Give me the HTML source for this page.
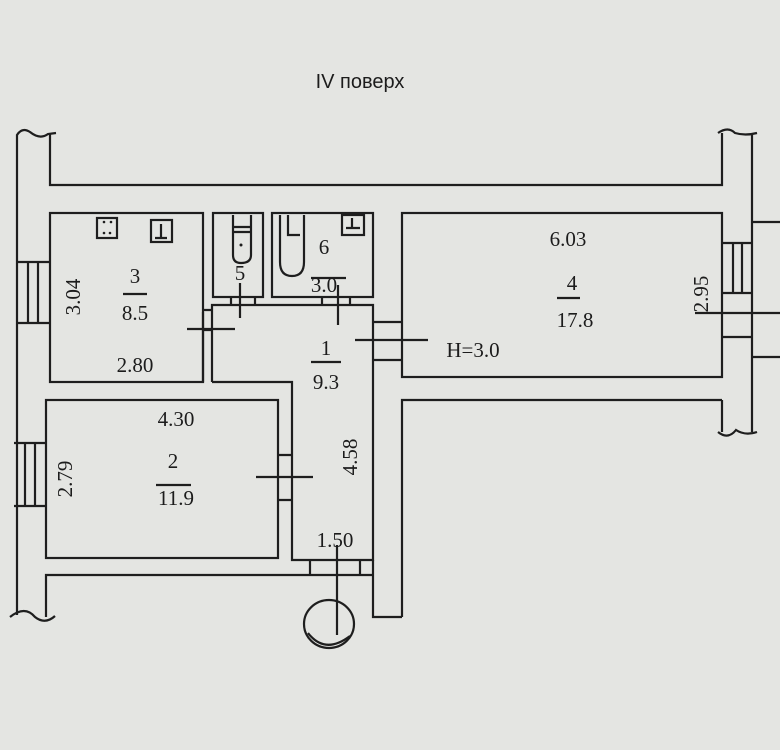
<!DOCTYPE html>
<html><head><meta charset="utf-8"><style>
html,body{margin:0;padding:0;background:#e4e5e2}
svg{display:block}
text{font-family:"Liberation Serif",serif;fill:#1c1c1c}
</style></head><body>
<svg width="780" height="750" viewBox="0 0 780 750" xmlns="http://www.w3.org/2000/svg">
<rect width="780" height="750" fill="#e4e5e2"/>
<text x="360" y="88" font-family="Liberation Sans, sans-serif" font-size="20" text-anchor="middle" style="font-family:'Liberation Sans',sans-serif">IV поверх</text>
<g stroke="#1e1e1e" stroke-width="2.2" fill="none">
<!-- outer walls -->
<path d="M17 615 V135 Q22 127 30 132 Q40 140 48 134 L56 133"/>
<path d="M50 133 V185 H722 V133"/>
<path d="M718 133 Q728 126 735 133 Q745 136 757 133"/>
<path d="M752 133 V432"/>
<path d="M722 400 V432 M718 432 Q728 440 736 430 Q745 436 757 432"/>
<path d="M402 617 V400 H722"/>
<path d="M373 560 V617 H402"/>
<path d="M46 617 V575 H373"/>
<path d="M10 617 Q25 605 35 617 Q45 625 55 616"/>
<!-- room 3 -->
<rect x="50" y="213" width="153" height="169"/>
<!-- left window room3 -->
<path d="M17 262 H50 M17 323 H50 M28 262 V323 M38 262 V323"/>
<!-- room 5 -->
<rect x="213" y="213" width="50" height="84"/>
<!-- room 6 -->
<rect x="272" y="213" width="101" height="84"/>
<!-- corridor -->
<path d="M212 382 V305 H373 V560 H292 V382 H212"/>
<path d="M203 312 V382 M203 310 H212 M203 330 H212"/>
<path d="M187 329 H235"/>
<path d="M231 297 V305 M255 297 V305 M240 283 V318"/>
<path d="M322 297 V305 M350 297 V305 M338 285 V325"/>
<!-- room 4 -->
<rect x="402" y="213" width="320" height="164"/>
<path d="M373 322 H402 M373 360 H402 M355 340 H428"/>
<!-- right window -->
<path d="M722 243 H752 M722 293 H752 M733 243 V293 M742 243 V293"/>
<path d="M722 337 H752 M695 313 H780 M752 222 H780 M752 357 H780"/>
<!-- room 2 -->
<rect x="46" y="400" width="232" height="158"/>
<path d="M14 443 H46 M14 506 H46 M25 443 V506 M35 443 V506"/>
<path d="M278 455 H292 M278 500 H292 M256 477 H313"/>
<path d="M310 560 V575 M360 560 V575 M337 545 V635"/>
<ellipse cx="329" cy="624" rx="25" ry="24"/>
<path d="M308 633 Q325 655 350 636"/>
<!-- fixtures room3 -->
<rect x="97" y="218" width="20" height="20"/>
<rect x="151" y="220" width="21" height="22"/>
<path d="M161 224 V238 M155 238 H167"/>
<!-- toilet room5 -->
<path d="M233 215 V255 Q233 263 241 263 Q251 263 251 255 V215 M233 227 H251 M233 232 H251"/>
<!-- bath room6 -->
<path d="M280 215 V262 Q280 276 292 276 Q304 276 304 262 V215 M288 215 V235 H300"/>
<rect x="342" y="215" width="22" height="20"/>
<path d="M352 218 V228 M346 228 H360"/>
<!-- fraction lines -->
<path d="M123 294 H147 M557 298 H580 M311 362 H341 M156 485 H191 M311 278 H346"/>
</g>
<g fill="#1e1e1e" stroke="none">
<circle cx="104" cy="222" r="1.3"/><circle cx="111" cy="222" r="1.3"/><circle cx="104" cy="233" r="1.3"/><circle cx="110" cy="233" r="1.3"/>
<circle cx="241" cy="245" r="1.5"/>
</g>
<g font-size="21" text-anchor="middle">
<text x="135" y="283">3</text><text x="135" y="320">8.5</text>
<text x="135" y="372">2.80</text>
<text x="75" y="297" transform="rotate(-90 75 297)" dominant-baseline="middle">3.04</text>
<text x="240" y="280">5</text>
<text x="324" y="254">6</text><text x="324" y="292">3.0</text>
<text x="326" y="355">1</text><text x="326" y="389">9.3</text>
<text x="568" y="246">6.03</text>
<text x="572" y="290">4</text><text x="575" y="327">17.8</text>
<text x="473" y="357">H=3.0</text>
<text x="703" y="294" transform="rotate(-90 703 294)" dominant-baseline="middle">2.95</text>
<text x="176" y="426">4.30</text>
<text x="173" y="468">2</text><text x="176" y="505">11.9</text>
<text x="67" y="479" transform="rotate(-90 67 479)" dominant-baseline="middle">2.79</text>
<text x="352" y="457" transform="rotate(-90 352 457)" dominant-baseline="middle">4.58</text>
<text x="335" y="547">1.50</text>
</g>
</svg>
</body></html>
